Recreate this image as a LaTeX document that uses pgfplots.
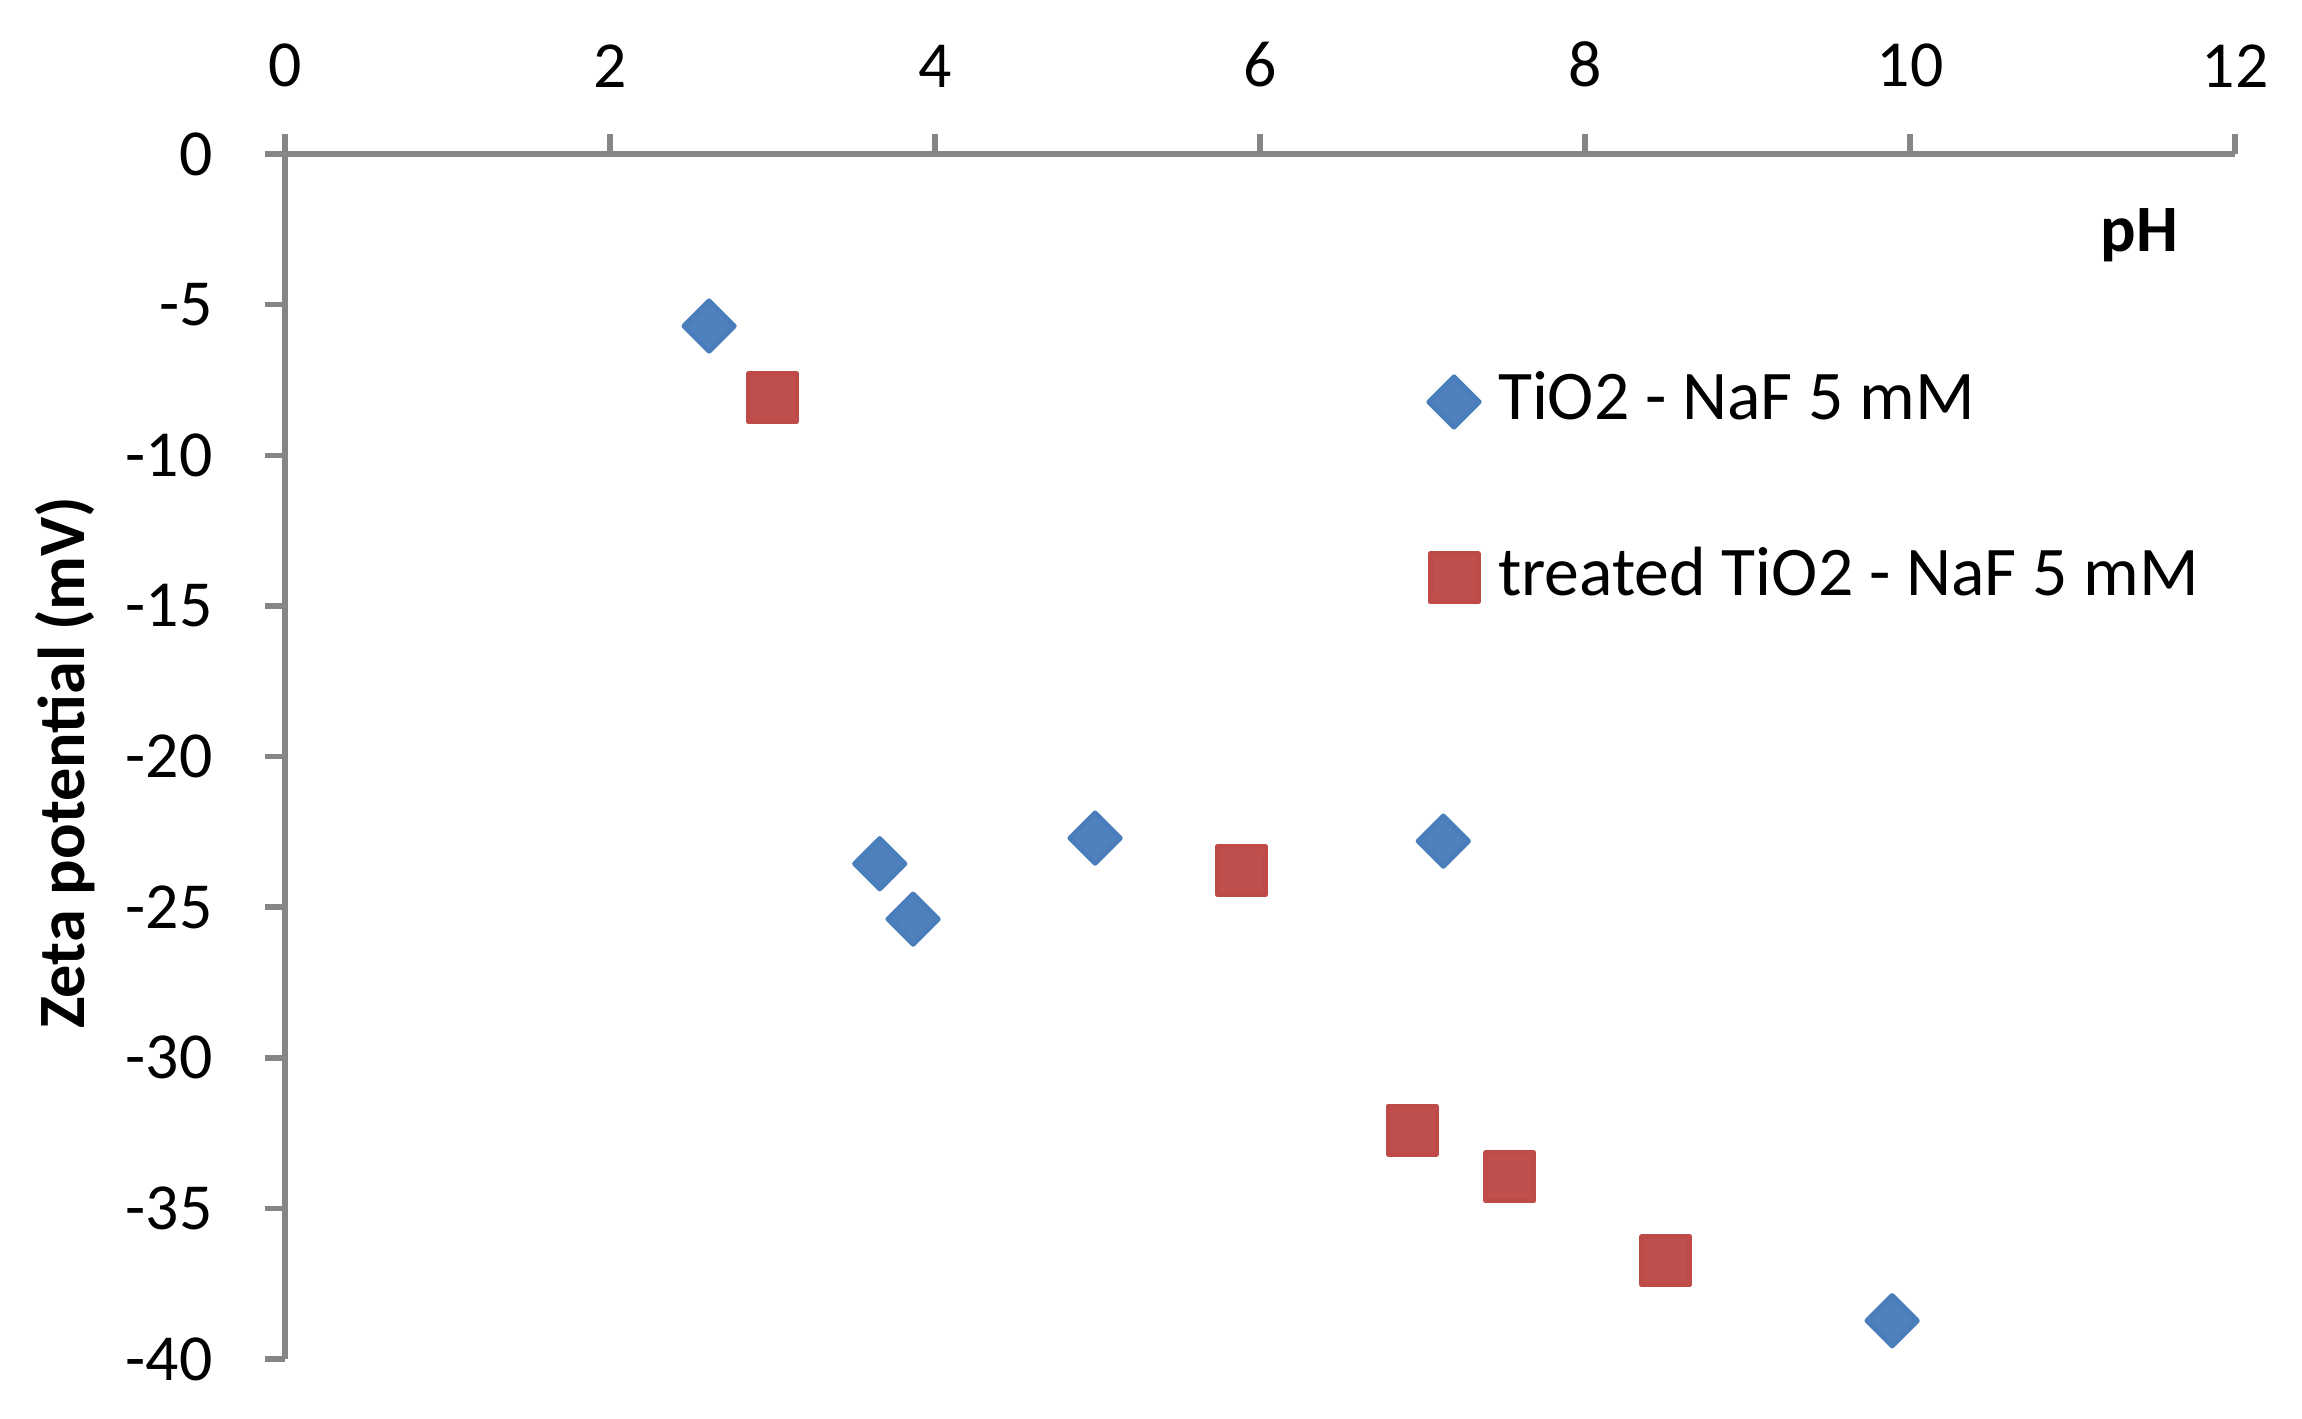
\documentclass[border=0pt]{standalone}
\usepackage{fontspec}
\setmainfont{Carlito}
\usepackage{pgfplots}
\pgfplotsset{compat=1.18}

\definecolor{tioblue}{HTML}{4F81BD}
\definecolor{tioblueedge}{HTML}{4A7EBB}
\definecolor{trred}{HTML}{C0504D}
\definecolor{trrededge}{HTML}{BE4B48}
\definecolor{axgray}{HTML}{868686}

\begin{document}
\begin{tikzpicture}
\begin{axis}[
    name=ax,
    scale only axis,
    width=390bp, height=241bp,
    xmin=0, xmax=12, ymin=-40, ymax=0,
    xtick={0,2,...,12},
    ytick={-40,-35,-30,-25,-20,-15,-10,-5,0},
    yticklabels={-40,-35,-30,-25,-20,-15,-10,-5,0},
    axis x line*=top,
    axis y line*=left,
    axis line style={draw=axgray, line width=1.1bp},
    tick align=outside,
    major tick length=4bp,
    tick style={draw=axgray, line width=1.1bp},
    /pgf/number format/assume math mode=true,
    ticklabel style={font=\fontsize{13.2}{15}\selectfont, inner sep=0pt},
    xticklabel style={yshift=9.2bp},
    yticklabel style={xshift=-10.3bp},
    xlabel={\textbf{pH}},
    xlabel style={at={(axis description cs:0.951,0.919)}, anchor=base,
        font=\fontsize{13.3}{15}\selectfont},
    ylabel={\textbf{Zeta potential (mV)}},
    ylabel style={at={(axis description cs:-0.1128,0.495)}, anchor=center,
        font=\fontsize{13.3}{15}\selectfont},
    clip=false,
    legend cell align=left,
    legend style={at={(axis description cs:0.5849,0.822)}, anchor=north west,
        draw=none, fill=none, inner sep=0pt, row sep=22.2bp, column sep=3.3bp,
        font=\fontsize{14}{16}\selectfont,
        nodes={inner sep=0pt, text height=10bp, text depth=3bp}},
    legend image code/.code={
        \path[draw=none, fill=none] (-5.5bp,-5.5bp) rectangle (5.5bp,5.5bp);
        \draw[#1] plot coordinates {(0bp,0bp)};},
]
% TiO2 - NaF 5 mM
\addplot[only marks, mark=square*, mark size=3.55bp,
    mark options={rotate=45, fill=tioblue, draw=tioblueedge, line width=1bp, line join=round}]
coordinates {
    (2.61,-5.71)
    (3.66,-23.56)
    (3.865,-25.4)
    (4.985,-22.71)
    (7.128,-22.81)
    (9.89,-38.73)
};
\addlegendentry{TiO2 - NaF 5 mM}

% treated TiO2 - NaF 5 mM
\addplot[only marks, mark=square*, mark size=4.8bp,
    mark options={fill=trred, draw=trrededge, line width=1bp, line join=round}]
coordinates {
    (3.00,-8.09)
    (5.885,-23.79)
    (6.937,-32.4)
    (7.538,-33.95)
    (8.498,-36.74)
};
\addlegendentry{treated TiO2 - NaF 5 mM}
\end{axis}
\pgfresetboundingbox
\path[use as bounding box] ([xshift=-57bp,yshift=-12bp]ax.south west)
    rectangle ([xshift=13.4bp,yshift=30.8bp]ax.north east);
\end{tikzpicture}
\end{document}
